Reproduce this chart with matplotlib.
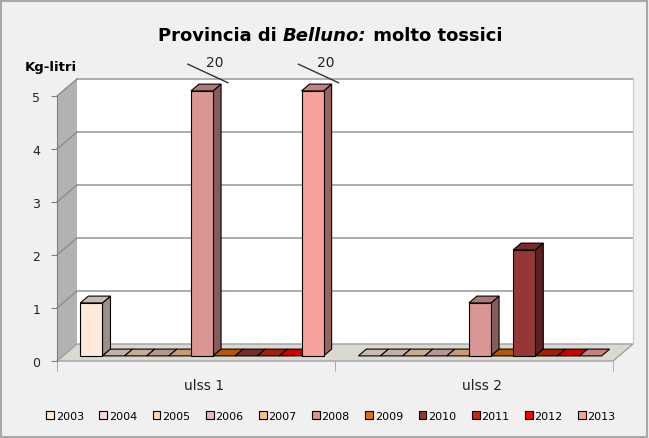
# 3d-looking column chart, excel style, built on a flat axes
import matplotlib
matplotlib.use('agg')
import matplotlib.pyplot as plt
from matplotlib.patches import Polygon, Patch, Rectangle
import numpy as np

# data
groups = ['ulss 1', 'ulss 2']
years = ['2003', '2004', '2005', '2006', '2007', '2008',
         '2009', '2010', '2011', '2012', '2013']
ulss1 = [1, 0, 0, 0, 0, 20, 0, 0, 0, 0, 20]
ulss2 = [0, 0, 0, 0, 0, 1, 0, 2, 0, 0, 0]
colors = ['#FDEADA', '#F2DCDB', '#FCD5B5', '#E6B9B8', '#FAC090', '#D99694',
          '#E46C0A', '#953735', '#C8280A', '#FF0000', '#F4A29A']
ymax = 5

plt.rcParams['font.family'] = 'DejaVu Sans'

W, H = 649, 439
fig = plt.figure(figsize=(W / 100, H / 100), dpi=100)
fig.patch.set_facecolor('#f0f0f0')
fig.patches.append(Rectangle((0.002, 0.003), 0.995, 0.993, transform=fig.transFigure,
                             fill=False, edgecolor='#a8a8a8', lw=1.5))

# axes box = front plane (pixels)
x_left, x_right, y_zero, y_top = 57, 613, 362, 97
ax = fig.add_axes([x_left / W, (H - y_zero) / H, (x_right - x_left) / W, (y_zero - y_top) / H])
ax.set_xlim(0, 2)
ax.set_ylim(0, ymax)
ax.patch.set_alpha(0)

# depth offset in data units
DX = 20 * 2 / (x_right - x_left)
DY = 17 * ymax / (y_zero - y_top)
f0, f1 = 0.3, 0.7


def shade(c, k):
    r, g, b = matplotlib.colors.to_rgb(c)
    return (r * k, g * k, b * k)


def poly(pts, fc, ec='none', lw=0.8, z=1):
    ax.add_patch(Polygon(pts, closed=True, facecolor=fc, edgecolor=ec, lw=lw,
                         zorder=z, clip_on=False))


# walls and floor
poly([(DX, DY), (2 + DX, DY), (2 + DX, ymax + DY), (DX, ymax + DY)], 'white', z=0.5)
poly([(0, 0), (0, ymax), (DX, ymax + DY), (DX, DY)], '#b2b2b2', z=0.6)
poly([(0, 0), (2, 0), (2 + DX, DY), (DX, DY)], '#d9d9d2', ec='#a0a0a0', lw=1, z=0.7)
for k in range(1, ymax + 1):
    ax.plot([DX, 2 + DX], [k + DY, k + DY], color='#a6a6a6', lw=1.3, zorder=0.8, clip_on=False)
    ax.plot([0, DX], [k, k + DY], color='#8c8c8c', lw=1, zorder=0.8, clip_on=False)
ax.plot([2 + DX, 2 + DX], [DY, ymax + DY], color='#d0d0d0', lw=1, zorder=0.8, clip_on=False)

# bars
w = 0.875 / len(years)
z = 2
for g, vals in enumerate([ulss1, ulss2]):
    for j, v in enumerate(vals):
        x0 = g + 0.0625 + j * w
        h = min(v, ymax)
        c = colors[j]
        xa, xb = x0 + f0 * DX, x0 + w + f0 * DX
        xc, xd = x0 + f1 * DX, x0 + w + f1 * DX
        ya, yb = f0 * DY, f1 * DY
        if h > 0:
            poly([(xb, ya), (xd, yb), (xd, h + yb), (xb, h + ya)], shade(c, 0.62), ec='black', z=z)
            ax.bar(xa, h, width=w, bottom=ya, align='edge', color=c, edgecolor='black',
                   lw=0.8, zorder=z + 0.1, clip_on=False)
        poly([(xa, h + ya), (xb, h + ya), (xd, h + yb), (xc, h + yb)], shade(c, 0.8),
             ec='black', z=z + 0.2)
        z += 1
        if v > ymax:
            ax.plot([xa - 0.011, xa + 0.133], [5.6, 5.25], color='#333333', lw=1,
                    clip_on=False, zorder=50)
            ax.text(xa + 0.086, 5.64, str(v), ha='center', va='center', fontsize=10,
                    color='#222222', zorder=50)

# axes styling
for s in ['top', 'right', 'bottom']:
    ax.spines[s].set_visible(False)
ax.spines['left'].set_color('#808080')
ax.set_yticks(range(0, ymax + 1))
ax.tick_params(axis='y', length=4, color='#808080', labelsize=9, labelcolor='#222222', pad=8)
ax.set_xticks([g + 0.5 + 0.03 for g in range(len(groups))])
ax.set_xticklabels(groups, fontsize=10, color='#222222')
ax.tick_params(axis='x', length=0, pad=12)
ax.set_xticks([0, 1, 2], minor=True)
ax.tick_params(axis='x', which='minor', length=7, color='#a0a0a0')

# title with italic part
fs = 13
t1 = fig.text(0.5, 0.918, 'Provincia di ', fontsize=fs, fontweight='bold', ha='left', va='center')
t2 = fig.text(0.5, 0.918, 'Belluno:', fontsize=fs, fontweight='bold', style='italic',
              ha='left', va='center')
t3 = fig.text(0.5, 0.918, ' molto tossici', fontsize=fs, fontweight='bold', ha='left', va='center')
r = fig.canvas.get_renderer()
ws = [t.get_window_extent(r).width for t in (t1, t2, t3)]
start = 330 - sum(ws) / 2
for t, wd in zip((t1, t2, t3), ws):
    t.set_x(start / W)
    start += wd

fig.text(25 / W, 1 - 68 / H, 'Kg-litri', fontsize=9.5, fontweight='bold', ha='left', va='center')

handles = [Patch(facecolor=c, edgecolor='black', lw=0.8) for c in colors]
fig.legend(handles, years, loc='center', bbox_to_anchor=(0.51, 1 - 417 / H), ncol=11,
           frameon=False, fontsize=8, handlelength=0.7, handleheight=0.7,
           handletextpad=0.15, columnspacing=1.4)

plt.savefig('out.png', dpi=100, facecolor=fig.get_facecolor())
